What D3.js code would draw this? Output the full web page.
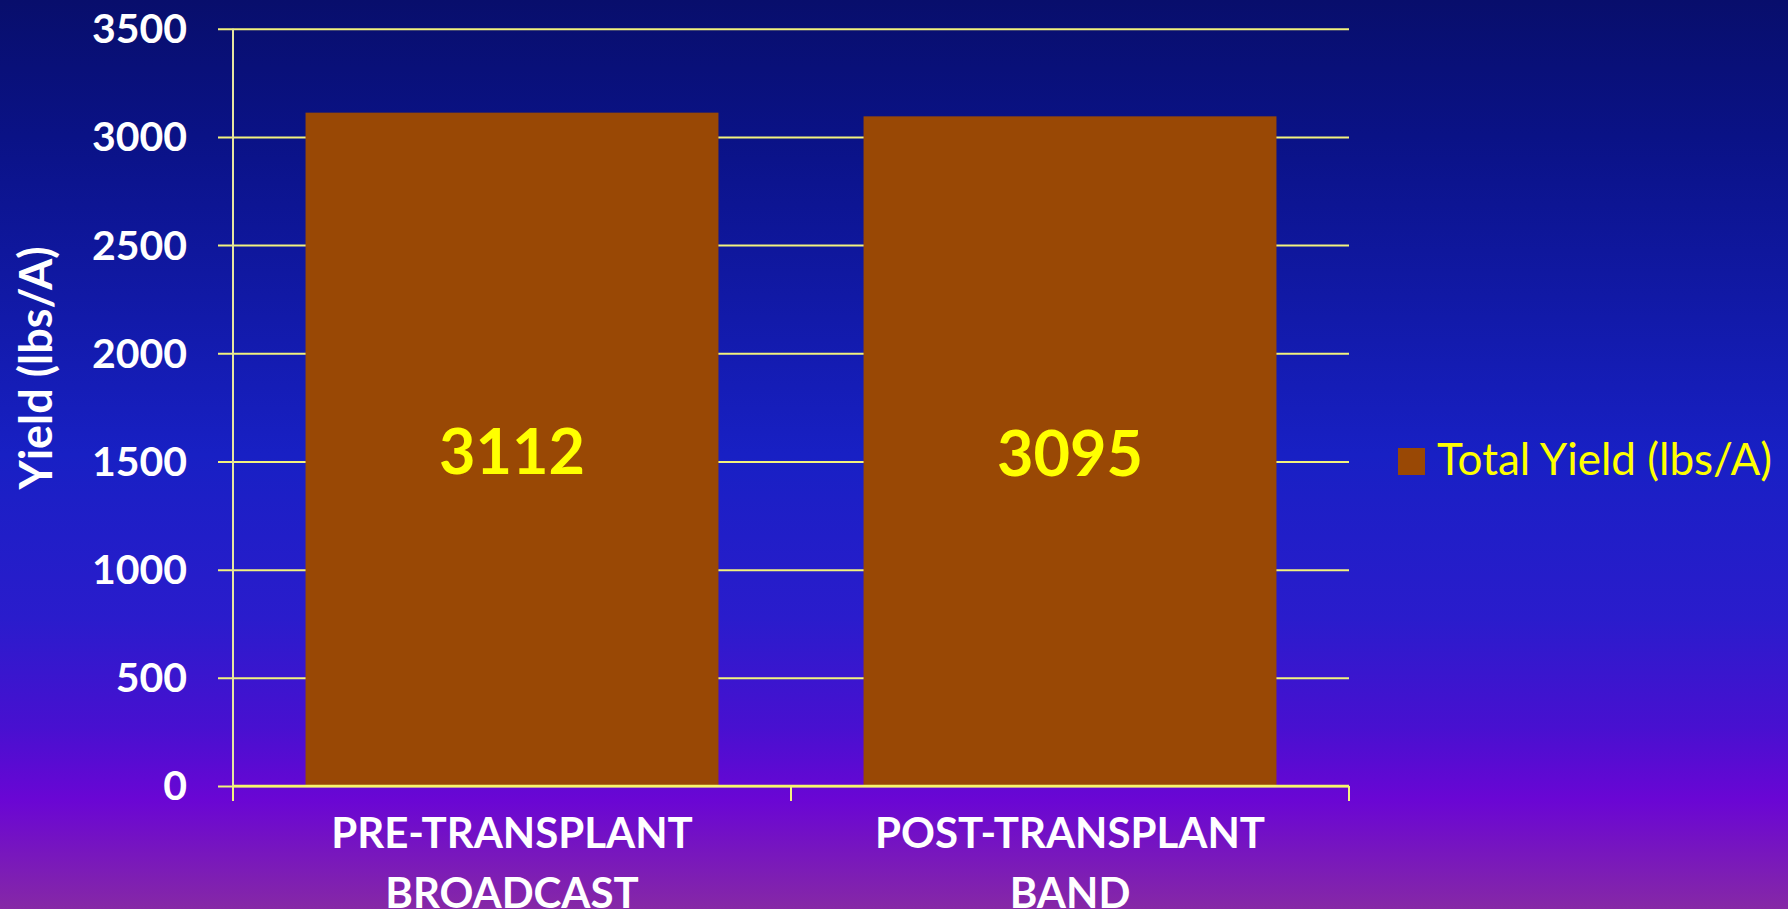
<!DOCTYPE html>
<html>
<head>
<meta charset="utf-8">
<script src="https://cdn.jsdelivr.net/npm/d3@7"></script>
<style>
  html, body { margin: 0; padding: 0; overflow: hidden; }
  svg { display: block; font-family: Lato, "Open Sans", sans-serif; }
</style>
</head>
<body>
<div id="chart"></div>
<script>
// données
const categories = [["PRE-TRANSPLANT", "BROADCAST"], ["POST-TRANSPLANT", "BAND"]];
const totalYield = [3112, 3095];
const yTicks = [0, 500, 1000, 1500, 2000, 2500, 3000, 3500];
const seriesName = "Total Yield (lbs/A)";
const yTitle = "Yield (lbs/A)";

const W = 1788, H = 909;
const margin = { top: 28.7, right: 439, bottom: 123, left: 233 };
const width = W - margin.left - margin.right;
const height = H - margin.top - margin.bottom;
const fontFam = "Lato, 'Open Sans', sans-serif";

const svg = d3.select("#chart").append("svg")
    .attr("width", W)
    .attr("height", H);

// fond dégradé
const grad = svg.append("defs").append("linearGradient")
    .attr("id", "bg")
    .attr("x1", 0).attr("y1", 0).attr("x2", 0).attr("y2", 1);
[[0, "#080e6c"], [0.15, "#0a1286"], [0.5, "#1820c4"], [0.68, "#2a1ccc"],
 [0.8, "#4810d0"], [0.88, "#6a06d4"], [1, "#8628a6"]].forEach(s => {
    grad.append("stop").attr("offset", s[0]).attr("stop-color", s[1]);
});
svg.append("rect").attr("width", W).attr("height", H).attr("fill", "url(#bg)");

const g = svg.append("g").attr("transform", `translate(${margin.left},${margin.top})`);

const x = d3.scaleBand()
    .domain(categories.map(d => d.join(" ")))
    .range([0, width])
    .paddingInner(0.26)
    .paddingOuter(0.13);

const y = d3.scaleLinear()
    .domain([0, 3500])
    .range([height, 0]);

// axe Y + grille
const yAxis = g.append("g")
    .call(d3.axisLeft(y).tickValues(yTicks).tickSize(-width).tickPadding(46).tickFormat(d3.format("d")))
    .attr("font-family", fontFam);
yAxis.select(".domain").remove();
yAxis.selectAll(".tick line")
    .attr("x1", -15)
    .attr("stroke", "#f2f27e")
    .attr("stroke-width", 2);
yAxis.selectAll(".tick text")
    .attr("fill", "#ffffff")
    .attr("font-size", 41)
    .attr("font-weight", "bold")
    .attr("dy", "0.34em");

// barres
g.selectAll(".bar")
    .data(totalYield)
    .enter()
    .append("rect")
    .attr("class", "bar")
    .attr("x", (d, i) => x(categories[i].join(" ")))
    .attr("y", d => y(d))
    .attr("width", x.bandwidth())
    .attr("height", d => height - y(d))
    .attr("fill", "#994805");

// ligne verticale de l'axe
g.append("line")
    .attr("x1", 0).attr("x2", 0)
    .attr("y1", 0).attr("y2", height + 15)
    .attr("stroke", "#e6e6a0")
    .attr("stroke-width", 2);

// axe X
g.append("line")
    .attr("x1", 0).attr("x2", width)
    .attr("y1", height).attr("y2", height)
    .attr("stroke", "#f6f66a")
    .attr("stroke-width", 2.5);

const bounds = [0].concat(x.domain().map(c => x(c) + x.bandwidth() + x.step() * x.paddingInner() / 2));
bounds[bounds.length - 1] = width;
g.selectAll(".xtick")
    .data(bounds)
    .enter()
    .append("line")
    .attr("x1", d => d).attr("x2", d => d)
    .attr("y1", height).attr("y2", height + 15)
    .attr("stroke", "#f2f27e")
    .attr("stroke-width", 2);

categories.forEach((c, i) => {
    const t = g.append("text")
        .attr("x", x(c.join(" ")) + x.bandwidth() / 2)
        .attr("y", height + 62)
        .attr("text-anchor", "middle")
        .attr("fill", "#ffffff")
        .attr("font-size", 42)
        .attr("font-weight", "bold");
    c.forEach((line, j) => {
        t.append("tspan")
            .attr("x", x(c.join(" ")) + x.bandwidth() / 2)
            .attr("dy", j === 0 ? 0 : 60)
            .text(line);
    });
});

// étiquettes des valeurs
g.selectAll(".val")
    .data(totalYield)
    .enter()
    .append("text")
    .attr("x", (d, i) => x(categories[i].join(" ")) + x.bandwidth() / 2)
    .attr("y", d => (y(d) + y(0)) / 2)
    .attr("dy", "0.39em")
    .attr("text-anchor", "middle")
    .attr("fill", "#ffff00")
    .attr("font-size", 63)
    .attr("font-weight", "bold")
    .text(d => d);

// titre de l'axe Y
svg.append("text")
    .attr("transform", "translate(52,368) rotate(-90)")
    .attr("text-anchor", "middle")
    .attr("fill", "#ffffff")
    .attr("font-size", 45)
    .attr("font-weight", "bold")
    .text(yTitle);

// légende
const legend = svg.append("g").attr("transform", "translate(1398,448)");
legend.append("rect")
    .attr("width", 27).attr("height", 27)
    .attr("fill", "#994805");
legend.append("text")
    .attr("x", 39)
    .attr("y", 27)
    .attr("fill", "#ffff00")
    .attr("font-size", 44)
    .text(seriesName);
</script>
</body>
</html>
